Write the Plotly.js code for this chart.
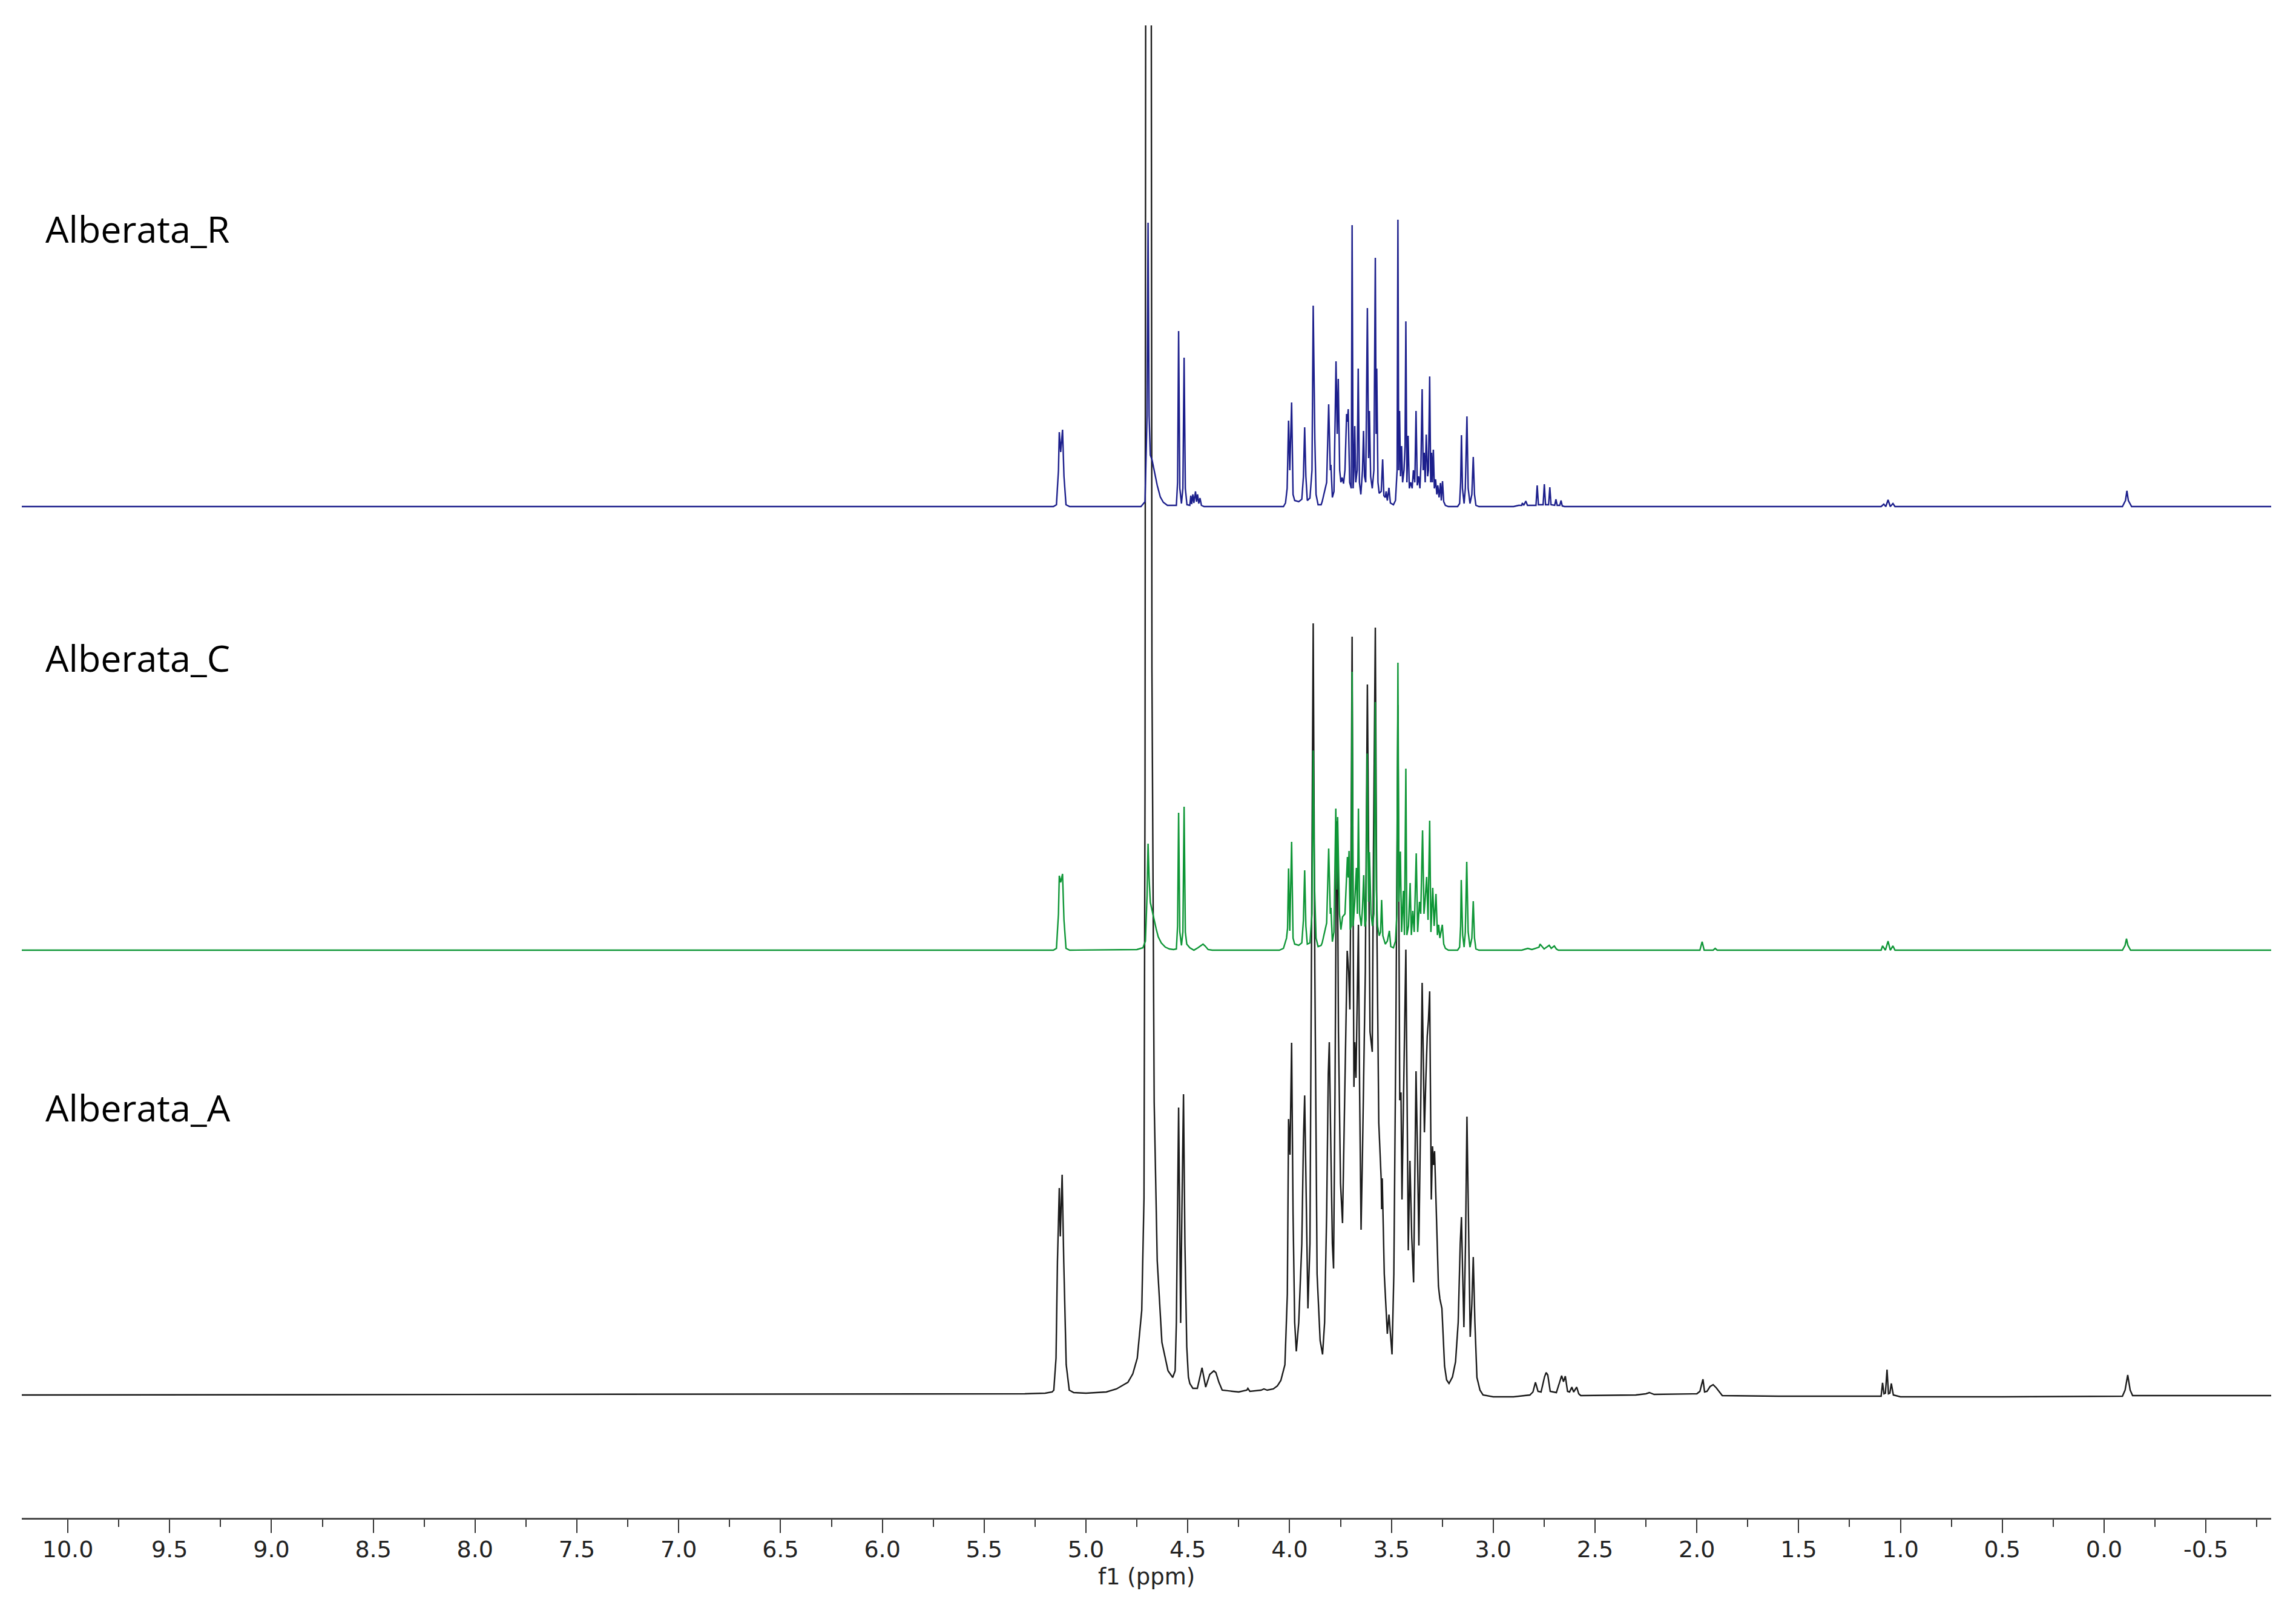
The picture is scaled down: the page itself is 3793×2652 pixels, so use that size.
<!DOCTYPE html>
<html>
<head>
<meta charset="utf-8">
<script src="https://cdn.plot.ly/plotly-3.0.1.min.js"></script>
<style>html,body{margin:0;padding:0;background:#fff;}#chart{width:3793px;height:2652px;}</style>
</head>
<body>
<div id="chart"></div>
<script>
// Sample names
const sampleNames = ['Alberata_R', 'Alberata_C', 'Alberata_A'];

// Spectrum vertices [ppm, intensity a.u.]
const specR = [
  [10.23,0],[5.16,0],[5.145,3],[5.135,60],[5.131,123],[5.124,90],[5.115,127],[5.108,50],[5.098,3],[5.08,0],
  [4.73,0],[4.71,8],[4.700,150],[4.695,469],[4.690,150],[4.684,85],[4.676,78],[4.665,60],[4.65,35],[4.635,16],[4.62,7],[4.60,2],
  [4.556,2],[4.550,40],[4.545,290],[4.539,30],[4.531,5],[4.524,30],[4.518,246],[4.512,30],[4.504,3],
  [4.49,2],[4.485,18],[4.481,4],[4.475,20],[4.470,6],[4.462,25],[4.457,8],[4.452,20],[4.446,5],[4.44,14],[4.433,2],[4.42,0],
  [4.03,0],[4.02,6],[4.012,30],[4.005,142],[3.999,60],[3.990,172],[3.983,20],[3.975,10],[3.955,8],[3.940,12],[3.932,50],[3.926,131],[3.920,50],[3.913,10],[3.900,14],[3.890,60],[3.884,332],[3.878,120],[3.876,111],[3.870,20],[3.86,3],[3.845,3],[3.84,8],[3.818,40],[3.808,169],[3.800,60],[3.797,69],[3.790,15],[3.782,25],[3.772,240],[3.766,120],[3.761,211],[3.754,60],[3.748,40],[3.742,48],[3.735,38],[3.728,60],[3.720,153],[3.716,140],[3.712,161],[3.705,40],[3.697,30],[3.693,465],[3.688,30],[3.684,60],[3.680,133],[3.675,40],[3.668,60],[3.663,228],[3.657,40],[3.650,20],[3.642,60],[3.637,125],[3.632,50],[3.626,40],[3.618,328],[3.612,80],[3.608,158],[3.602,50],[3.594,30],[3.586,60],[3.579,411],[3.575,120],[3.572,228],[3.566,40],[3.560,22],[3.550,25],[3.543,78],[3.537,18],[3.530,15],[3.526,25],[3.520,10],[3.512,31],[3.505,6],[3.49,3],[3.480,10],[3.472,60],[3.468,474],[3.464,60],[3.460,158],[3.455,50],[3.450,100],[3.445,40],[3.438,60],[3.433,100],[3.429,306],[3.424,40],[3.418,117],[3.412,30],[3.405,40],[3.398,30],[3.392,60],[3.385,40],[3.379,158],[3.373,35],[3.366,50],[3.360,30],[3.355,70],[3.349,194],[3.344,60],[3.339,89],[3.334,40],[3.329,119],[3.322,50],[3.318,60],[3.312,215],[3.307,40],[3.303,89],[3.299,40],[3.294,94],[3.289,30],[3.283,45],[3.277,20],[3.272,35],[3.266,15],[3.259,39],[3.255,10],[3.249,42],[3.243,8],[3.235,2],[3.22,0],
  [3.175,0],[3.165,5],[3.160,40],[3.156,118],[3.151,30],[3.143,5],[3.137,30],[3.129,149],[3.123,30],[3.114,5],[3.105,20],[3.098,82],[3.092,20],[3.085,2],[3.07,0],
  [2.90,0],[2.875,2],[2.86,2],[2.857,6],[2.850,2],[2.840,9],[2.832,2],[2.79,2],[2.784,35],[2.778,3],[2.755,3],[2.749,37],[2.743,3],[2.728,3],[2.722,32],[2.716,3],[2.698,2],[2.692,12],[2.686,2],[2.673,2],[2.667,10],[2.661,1],[2.65,0],
  [1.095,0],[1.082,4],[1.072,0],[1.061,11],[1.050,0],[1.037,5],[1.027,0],
  [-0.09,0],[-0.105,10],[-0.112,26],[-0.119,10],[-0.135,0],[-0.83,0]
];

const specC = [
  [10.23,0],[5.16,0],[5.145,3],[5.135,60],[5.131,123],[5.124,112],[5.115,126],[5.108,50],[5.098,3],[5.08,0],
  [4.75,1],[4.72,4],[4.708,15],[4.700,90],[4.695,176],[4.690,120],[4.684,79],[4.676,66],[4.665,50],[4.655,35],[4.645,22],[4.63,12],[4.61,5],[4.59,2],[4.57,1],
  [4.556,2],[4.550,40],[4.545,227],[4.539,30],[4.531,8],[4.524,30],[4.518,237],[4.512,30],[4.505,10],[4.49,4],[4.47,0],[4.45,4],[4.435,8],[4.425,10],[4.415,7],[4.40,1],[4.38,0],
  [4.05,0],[4.03,3],[4.015,20],[4.010,36],[4.005,135],[3.999,32],[3.990,179],[3.983,20],[3.975,10],[3.955,8],[3.940,12],[3.932,50],[3.926,132],[3.920,40],[3.913,10],[3.900,12],[3.890,60],[3.884,330],[3.878,110],[3.870,20],[3.86,6],[3.845,8],[3.84,12],[3.818,45],[3.808,168],[3.800,60],[3.797,70],[3.790,14],[3.782,30],[3.773,234],[3.768,100],[3.764,220],[3.755,60],[3.748,34],[3.740,55],[3.728,60],[3.716,154],[3.712,120],[3.708,164],[3.702,34],[3.697,40],[3.693,460],[3.688,40],[3.680,80],[3.672,136],[3.667,60],[3.662,234],[3.656,60],[3.648,40],[3.642,70],[3.636,124],[3.630,39],[3.625,50],[3.619,325],[3.612,80],[3.608,162],[3.600,60],[3.593,40],[3.586,60],[3.579,410],[3.574,100],[3.568,40],[3.560,24],[3.553,30],[3.548,83],[3.542,24],[3.530,10],[3.520,15],[3.510,32],[3.503,6],[3.49,4],[3.480,15],[3.473,60],[3.468,475],[3.463,80],[3.456,163],[3.450,30],[3.441,98],[3.436,25],[3.429,300],[3.424,25],[3.416,40],[3.408,111],[3.402,25],[3.395,65],[3.388,30],[3.378,160],[3.371,30],[3.362,80],[3.356,60],[3.347,198],[3.340,60],[3.335,80],[3.327,121],[3.320,50],[3.312,214],[3.306,30],[3.297,103],[3.290,40],[3.281,93],[3.274,25],[3.268,42],[3.262,20],[3.250,42],[3.243,10],[3.235,3],[3.22,0],
  [3.175,0],[3.165,5],[3.160,40],[3.157,116],[3.150,25],[3.143,5],[3.137,30],[3.130,146],[3.123,30],[3.114,5],[3.105,20],[3.098,81],[3.092,20],[3.085,2],[3.07,0],
  [2.86,0],[2.83,3],[2.81,1],[2.775,5],[2.77,10],[2.765,8],[2.75,2],[2.725,8],[2.715,3],[2.70,7],[2.69,2],[2.68,0],
  [1.985,0],[1.974,14],[1.964,0],[1.92,0],[1.91,3],[1.90,0],
  [1.095,0],[1.088,7],[1.074,0],[1.061,15],[1.050,0],[1.037,7],[1.027,0],
  [-0.09,0],[-0.103,8],[-0.11,19],[-0.117,8],[-0.13,0],[-0.83,0]
];

const specA = [
  [10.23,0],[7.0,1],[5.30,2],[5.20,3],[5.166,5],[5.158,8],[5.147,61],[5.140,220],[5.131,342],[5.126,262],[5.117,364],[5.109,220],[5.097,50],[5.082,8],[5.06,4],[5.00,3],[4.95,4],[4.90,5],[4.85,10],[4.794,21],[4.77,35],[4.748,61],[4.726,140],[4.715,325],[4.710,1000],[4.706,2600],[4.680,2600],[4.676,1200],[4.665,484],[4.650,222],[4.627,87],[4.597,40],[4.574,29],
  [4.562,40],[4.556,120],[4.550,350],[4.545,475],[4.540,300],[4.535,119],[4.529,300],[4.521,497],[4.514,250],[4.505,80],[4.497,30],[4.49,19],[4.475,11],[4.453,11],[4.430,45],[4.422,29],[4.412,13],[4.392,34],[4.372,40],[4.362,37],[4.347,21],[4.331,8],[4.25,5],[4.21,8],[4.205,11],[4.195,6],[4.14,8],[4.126,10],[4.11,8],[4.08,10],[4.06,15],[4.043,24],[4.023,50],[4.011,167],[4.005,456],[3.998,397],[3.990,582],[3.983,300],[3.975,120],[3.967,72],[3.955,120],[3.940,250],[3.932,420],[3.926,495],[3.918,300],[3.910,143],[3.900,250],[3.892,700],[3.884,1275],[3.876,700],[3.865,200],[3.850,90],[3.838,67],[3.828,120],[3.818,300],[3.810,530],[3.805,583],[3.797,400],[3.790,250],[3.784,209],[3.777,500],[3.770,900],[3.766,948],[3.760,600],[3.750,350],[3.740,284],[3.728,500],[3.717,734],[3.710,700],[3.704,637],[3.698,900],[3.693,1253],[3.688,800],[3.684,509],[3.680,583],[3.674,524],[3.668,650],[3.662,777],[3.656,500],[3.649,273],[3.642,400],[3.634,570],[3.628,700],[3.618,1174],[3.612,900],[3.605,600],[3.594,567],[3.588,900],[3.579,1268],[3.572,800],[3.562,450],[3.550,355],[3.548,307],[3.545,358],[3.535,200],[3.520,101],[3.512,133],[3.505,100],[3.497,67],[3.488,200],[3.478,600],[3.468,1140],[3.462,700],[3.459,487],[3.453,500],[3.448,323],[3.440,500],[3.429,736],[3.422,450],[3.417,239],[3.409,387],[3.400,260],[3.391,186],[3.385,350],[3.379,535],[3.372,400],[3.365,247],[3.357,450],[3.349,681],[3.343,550],[3.338,434],[3.331,520],[3.324,593],[3.318,620],[3.312,667],[3.307,450],[3.304,323],[3.298,411],[3.293,380],[3.288,403],[3.280,300],[3.269,180],[3.262,159],[3.252,143],[3.239,48],[3.229,25],[3.217,19],[3.200,30],[3.185,55],[3.172,120],[3.162,250],[3.156,294],[3.150,200],[3.144,112],[3.136,250],[3.129,460],[3.122,300],[3.113,96],[3.105,150],[3.098,228],[3.090,120],[3.080,29],[3.065,8],[3.050,0],[3.00,-3],[2.90,-3],
  [2.82,0],[2.805,5],[2.7925,21],[2.78,6],[2.765,5],[2.748,30],[2.740,37],[2.732,33],[2.72,6],[2.69,4],[2.675,20],[2.664,32],[2.655,22],[2.646,31],[2.635,6],[2.625,5],[2.614,13],[2.605,5],[2.590,13],[2.580,2],[2.57,-1],[2.30,0],[2.25,2],[2.233,4],[2.21,1],[2.00,2],[1.985,6],[1.970,26],[1.962,5],[1.950,6],[1.935,14],[1.920,17],[1.905,12],[1.890,5],[1.875,-1],[1.60,-2],
  [1.095,-2],[1.088,20],[1.081,2],[1.074,3],[1.066,42],[1.059,2],[1.052,3],[1.045,19],[1.035,0],[1.00,-3],[0.5,-3],
  [-0.09,-2],[-0.103,8],[-0.116,33],[-0.128,8],[-0.14,-1],[-0.83,-1]
];

// Axis ticks
const tickVals = [10, 9.5, 9, 8.5, 8, 7.5, 7, 6.5, 6, 5.5, 5, 4.5, 4, 3.5, 3, 2.5, 2, 1.5, 1, 0.5, 0, -0.5];
const tickText = ['10.0','9.5','9.0','8.5','8.0','7.5','7.0','6.5','6.0','5.5','5.0','4.5','4.0','3.5','3.0','2.5','2.0','1.5','1.0','0.5','0.0','-0.5'];

const colors = ['#1c1f8c', '#0e9636', '#1a1a1a'];
const specs = [specR, specC, specA];
const axes = ['y3', 'y2', 'y'];

const traces = specs.map((s, i) => ({
  type: 'scatter', mode: 'lines',
  x: s.map(p => p[0]), y: s.map(p => p[1]),
  yaxis: axes[i],
  line: {color: colors[i], width: 2.4, shape: 'linear'},
  hoverinfo: 'skip', showlegend: false
}));

const labelY = [0.864, 0.5766, 0.2753];
const annotations = sampleNames.map((n, i) => ({
  text: n, xref: 'paper', yref: 'paper', x: 0.00996, y: labelY[i],
  xanchor: 'left', yanchor: 'middle', showarrow: false,
  font: {family: 'Open Sans', size: 61, color: '#000'}
}));

const hiddenY = r => ({visible: false, range: r, autorange: false, showgrid: false, zeroline: false, fixedrange: true});

const layout = {
  width: 3793, height: 2652,
  margin: {l: 36, r: 41, t: 42, b: 144},
  paper_bgcolor: '#fff', plot_bgcolor: '#fff',
  showlegend: false,
  xaxis: {
    range: [10.226, -0.8205], autorange: false,
    showgrid: false, zeroline: false,
    showline: true, linecolor: '#4a4a4a', linewidth: 3,
    ticks: 'outside', ticklen: 22, tickwidth: 2, tickcolor: '#333',
    tickmode: 'array', tickvals: tickVals, ticktext: tickText,
    ticklabelstandoff: -6,
    tickfont: {family: 'DejaVu Sans', size: 38, color: '#222'},
    minor: {dtick: 0.25, tick0: 0, ticks: 'outside', ticklen: 12, tickwidth: 2, tickcolor: '#333', showgrid: false},
    title: {text: 'f1 (ppm)', font: {family: 'DejaVu Sans', size: 37, color: '#222'}, standoff: 12}
  },
  yaxis: hiddenY([-203, 2263]),
  yaxis2: Object.assign(hiddenY([-938, 1528]), {overlaying: 'y'}),
  yaxis3: Object.assign(hiddenY([-1671, 795]), {overlaying: 'y'}),
  annotations: annotations
};

Plotly.newPlot('chart', traces, layout, {staticPlot: true, displayModeBar: false});
</script>
</body>
</html>
